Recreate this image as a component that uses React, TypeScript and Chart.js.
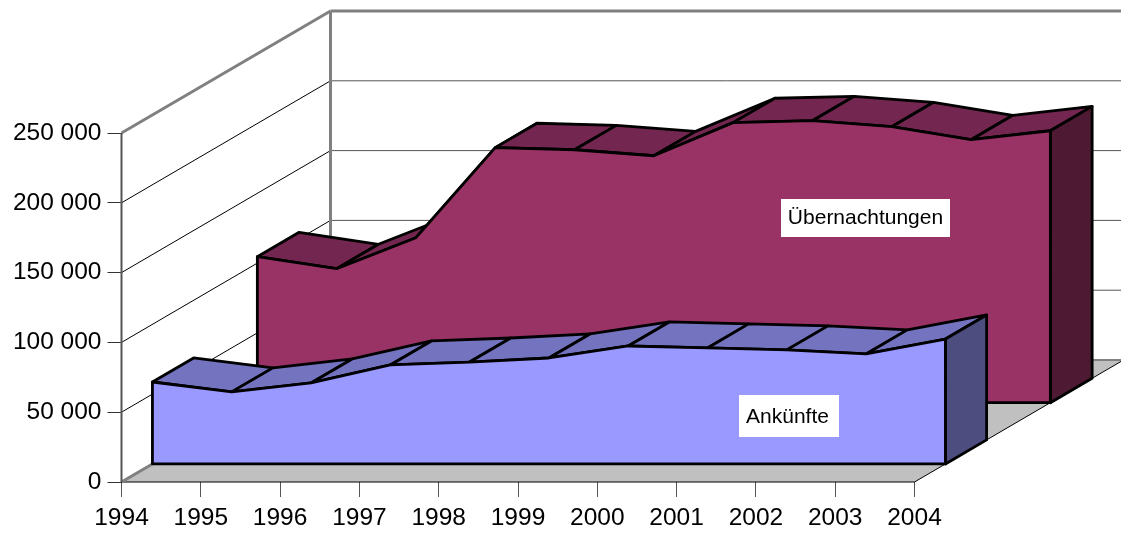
import React, { useEffect, useRef } from "react";
import { Chart, registerables } from "chart.js";

Chart.register(...registerables);

const years = [1994, 1995, 1996, 1997, 1998, 1999, 2000, 2001, 2002, 2003, 2004];
const ankuenfte = [58700, 51600, 58000, 70900, 73000, 75900, 84500, 83100, 81700, 78800, 89500];
const uebernachtungen = [104600, 96000, 118200, 182700, 181200, 176900, 200600, 202000, 197700, 188400, 194800];
const seriesNames = ["Ankünfte", "Übernachtungen"];
const yTicks = [0, 50000, 100000, 150000, 200000, 250000];

const FONT = '"Liberation Sans", Arial, sans-serif';
// depth of the back wall, in pixels
const DX = 209;
const DY = -122;

type Style = { front: string; top: string; side: string; near: number; far: number; lx: number; ly: number; tx: number; ty: number; bw: number; bh: number };
const styles: Record<string, Style> = {
  "Ankünfte": { front: "#9999FF", top: "#7373BF", side: "#4D4D80", near: 0.148, far: 0.345, lx: 789, ly: 416, tx: 787.5, ty: 417, bw: 100, bh: 42 },
  "Übernachtungen": { front: "#993366", top: "#732650", side: "#4D1933", near: 0.65, far: 0.85, lx: 865.5, ly: 218, tx: 865.5, ty: 218, bw: 169, bh: 38 },
};

const formatTick = (v: number) => String(v).replace(/\B(?=(\d{3})+$)/g, " ");

const poly = (ctx: CanvasRenderingContext2D, pts: number[][], fill: string) => {
  ctx.beginPath();
  pts.forEach((p, i) => (i ? ctx.lineTo(p[0], p[1]) : ctx.moveTo(p[0], p[1])));
  ctx.closePath();
  ctx.fillStyle = fill;
  ctx.fill();
  ctx.strokeStyle = "#000";
  ctx.lineWidth = 2.8;
  ctx.lineJoin = "round";
  ctx.stroke();
};

const line = (ctx: CanvasRenderingContext2D, x0: number, y0: number, x1: number, y1: number, color: string, w: number) => {
  ctx.beginPath();
  ctx.moveTo(x0, y0);
  ctx.lineTo(x1, y1);
  ctx.strokeStyle = color;
  ctx.lineWidth = w;
  ctx.stroke();
};

const area3d = {
  id: "area3d",
  beforeDatasetsDraw(chart: any) {
    const { ctx, scales } = chart;
    const xs = scales.x;
    const ys = scales.y;
    const x0 = xs.getPixelForValue(years[0]);
    const x1 = xs.getPixelForValue(years[years.length - 1]);
    const yb = ys.getPixelForValue(0);
    ctx.save();
    ctx.lineCap = "butt";

    // floor
    ctx.beginPath();
    ctx.moveTo(x0, yb);
    ctx.lineTo(x1, yb);
    ctx.lineTo(x1 + DX, yb + DY);
    ctx.lineTo(x0 + DX, yb + DY);
    ctx.closePath();
    ctx.fillStyle = "#C0C0C0";
    ctx.fill();
    line(ctx, x0, yb, x1, yb, "#000", 1);
    line(ctx, x1, yb, x1 + DX, yb + DY, "#000", 1);
    line(ctx, x0, yb, x0 + DX, yb + DY, "#808080", 3);
    line(ctx, x0 + DX, yb + DY, x1 + DX, yb + DY, "#808080", 2);

    // walls
    yTicks.forEach((v) => {
      if (v === 0) return;
      const y = ys.getPixelForValue(v);
      const top = v === yTicks[yTicks.length - 1];
      line(ctx, x0, y, x0 + DX, y + DY, top ? "#808080" : "#000", top ? 3 : 1);
      line(ctx, x0 + DX, y + DY, x1 + DX, y + DY, top ? "#808080" : "#555", top ? 3 : 1);
    });
    const yt = ys.getPixelForValue(yTicks[yTicks.length - 1]);
    line(ctx, x0, yt, x0, yb, "#555", 2);
    line(ctx, x0 + DX, yt + DY, x0 + DX, yb + DY, "#808080", 3);

    // series, back to front
    [...chart.data.datasets].reverse().forEach((ds: any) => {
      const st = styles[ds.label];
      const project = (year: number, value: number, d: number) => [
        xs.getPixelForValue(year) + DX * d,
        ys.getPixelForValue(value) + DY * d,
      ];
      const vals: number[] = ds.data.map((p: any) => p.y);
      for (let i = 0; i < years.length - 1; i++) {
        poly(ctx, [
          project(years[i], vals[i], st.near),
          project(years[i + 1], vals[i + 1], st.near),
          project(years[i + 1], vals[i + 1], st.far),
          project(years[i], vals[i], st.far),
        ], st.top);
      }
      const last = years.length - 1;
      poly(ctx, [
        project(years[last], vals[last], st.near),
        project(years[last], vals[last], st.far),
        project(years[last], 0, st.far),
        project(years[last], 0, st.near),
      ], st.side);
      poly(ctx, [
        project(years[0], 0, st.near),
        ...years.map((yr, i) => project(yr, vals[i], st.near)),
        project(years[last], 0, st.near),
      ], st.front);
    });

    // series labels
    seriesNames.forEach((name) => {
      const st = styles[name];
      ctx.fillStyle = "#fff";
      ctx.fillRect(st.lx - st.bw / 2, st.ly - st.bh / 2, st.bw, st.bh);
      ctx.fillStyle = "#000";
      ctx.font = `21px ${FONT}`;
      ctx.textAlign = "center";
      ctx.textBaseline = "middle";
      ctx.fillText(name, st.tx, st.ty);
    });
    ctx.restore();
  },
};

export default function App() {
  const ref = useRef<HTMLCanvasElement>(null);
  useEffect(() => {
    document.body.style.margin = "0";
    const chart = new Chart(ref.current!, {
      type: "line",
      data: {
        datasets: [
          { label: seriesNames[0], data: years.map((x, i) => ({ x, y: ankuenfte[i] })), showLine: false, pointRadius: 0, borderWidth: 0 },
          { label: seriesNames[1], data: years.map((x, i) => ({ x, y: uebernachtungen[i] })), showLine: false, pointRadius: 0, borderWidth: 0 },
        ],
      },
      options: {
        responsive: false,
        animation: false,
        layout: { padding: { left: 0, top: 133, right: 206.5, bottom: 0 } },
        plugins: { legend: { display: false }, tooltip: { enabled: false } },
        scales: {
          x: {
            type: "linear",
            min: years[0],
            max: years[years.length - 1],
            afterFit: (s: any) => { s.height = 52; },
            afterBuildTicks: (s: any) => { s.ticks = years.map((value) => ({ value })); },
            ticks: { autoSkip: false, maxRotation: 0, color: "#000", padding: 7, font: { family: FONT, size: 24.5 }, callback: (v: any) => String(v) },
            grid: { drawOnChartArea: false, tickLength: 15, color: "#555", lineWidth: 1 },
            border: { display: false },
          },
          y: {
            type: "linear",
            min: 0,
            max: yTicks[yTicks.length - 1],
            afterFit: (s: any) => { s.width = 121.5; },
            afterBuildTicks: (s: any) => { s.ticks = yTicks.map((value) => ({ value })); },
            ticks: { color: "#000", padding: 6, font: { family: FONT, size: 24.5 }, callback: (v: any) => formatTick(Number(v)) },
            grid: { drawOnChartArea: false, tickLength: 14, color: "#333", lineWidth: 1 },
            border: { display: false },
          },
        },
      },
      plugins: [area3d],
    } as any);
    return () => chart.destroy();
  }, []);
  return <canvas ref={ref} width={1121} height={534} style={{ display: "block" }} />;
}
